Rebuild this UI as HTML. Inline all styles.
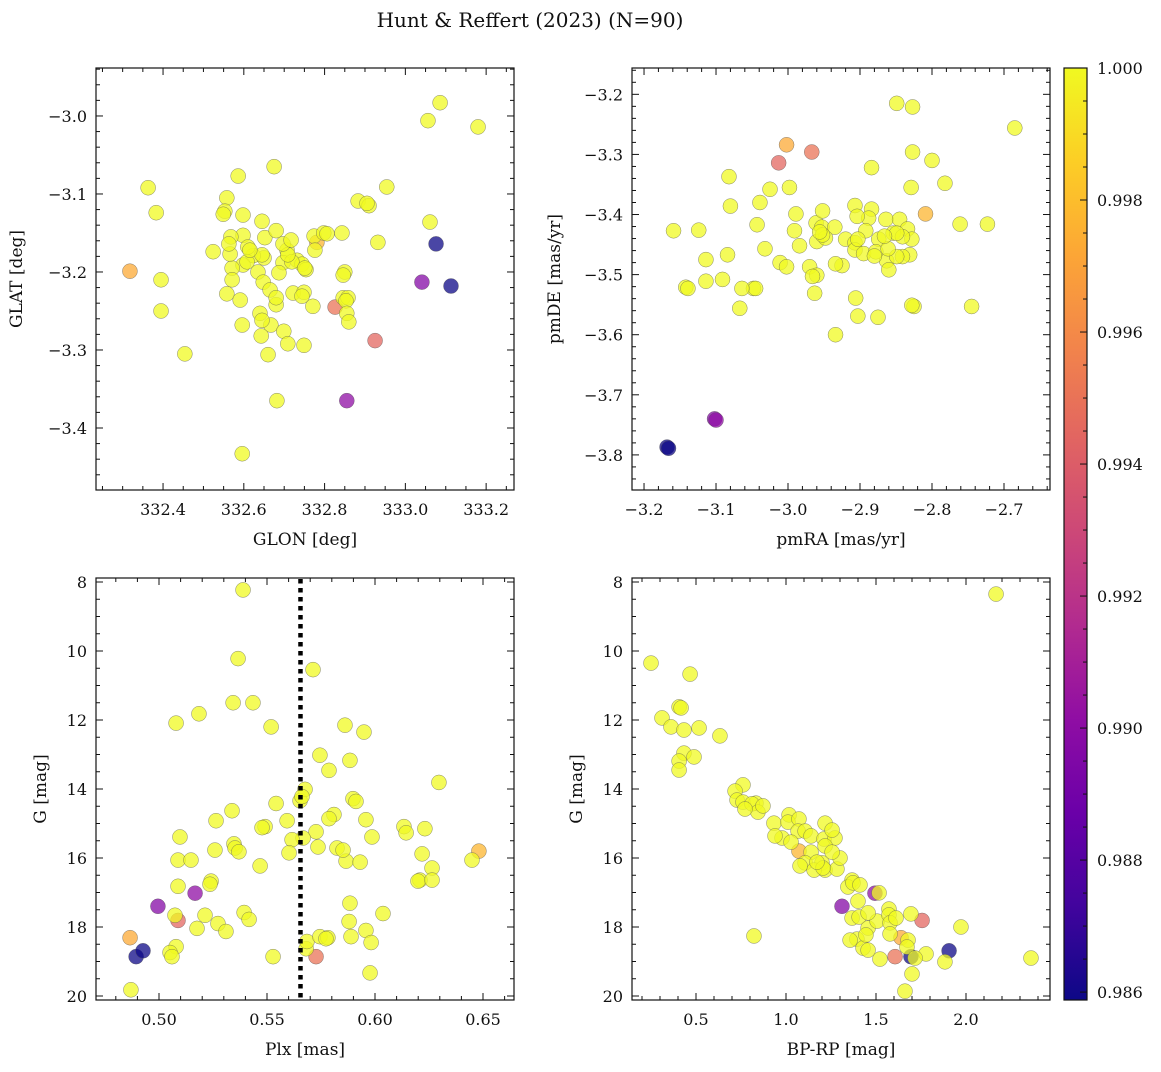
<!DOCTYPE html>
<html>
<head>
<meta charset="utf-8">
<style>
  html,body{margin:0;padding:0;background:#fff;}
  svg text{font-family:"DejaVu Serif","Liberation Serif",serif;fill:#111;}
</style>
</head>
<body>
<svg id="fig" xmlns="http://www.w3.org/2000/svg" width="1161" height="1067" viewBox="0 0 1161 1067">
  <defs>
    <linearGradient id="plasmaGrad" x1="0" y1="1" x2="0" y2="0">
      <stop offset="0" stop-color="#0d0887"/>
      <stop offset="0.1" stop-color="#41049d"/>
      <stop offset="0.2" stop-color="#6a00a8"/>
      <stop offset="0.3" stop-color="#8f0da4"/>
      <stop offset="0.4" stop-color="#b12a90"/>
      <stop offset="0.5" stop-color="#cc4778"/>
      <stop offset="0.6" stop-color="#e16462"/>
      <stop offset="0.7" stop-color="#f2844b"/>
      <stop offset="0.8" stop-color="#fca636"/>
      <stop offset="0.9" stop-color="#fcce25"/>
      <stop offset="1" stop-color="#f0f921"/>
    </linearGradient>
  </defs>
  <text x="530" y="27" font-size="20" text-anchor="middle">Hunt &amp; Reffert (2023) (N=90)</text>
</svg>
<script>
// ---- data ----
const prob = [0.98588,0.98588,0.9897,0.9901,0.9973,0.9977,0.9945,0.9950].concat(new Array(82).fill(1.0));

const glon = [333.113,333.076,333.041,332.855,332.318,332.781,332.925,332.826,
333.086,333.056,333.180,332.363,332.383,332.954,332.883,332.910,332.905,333.061,
332.932,332.395,332.395,332.454,332.586,332.675,332.558,332.553,332.549,332.598,
332.524,332.598,332.652,332.680,332.707,332.650,332.623,332.598,332.571,332.571,
332.558,332.608,332.635,332.648,332.665,332.697,332.687,332.732,332.744,332.722,
332.749,332.749,332.680,332.667,332.643,332.660,332.682,332.596,332.591,332.596,
332.640,332.719,332.754,332.709,332.697,332.774,332.798,332.843,332.850,332.846,
332.858,332.853,332.855,332.860,332.846,332.751,332.806,332.776,332.566,332.568,
332.610,332.645,332.699,332.709,332.744,332.771,332.680,332.645,332.717,332.645,
332.615,332.563];
const glat = [-3.218,-3.164,-3.213,-3.365,-3.199,-3.162,-3.288,-3.245,
-2.983,-3.006,-3.014,-3.092,-3.124,-3.091,-3.109,-3.115,-3.112,-3.136,
-3.162,-3.210,-3.250,-3.305,-3.077,-3.065,-3.105,-3.122,-3.126,-3.127,
-3.174,-3.153,-3.156,-3.147,-3.172,-3.182,-3.179,-3.191,-3.195,-3.210,
-3.228,-3.187,-3.200,-3.213,-3.223,-3.188,-3.201,-3.185,-3.190,-3.227,
-3.226,-3.294,-3.242,-3.268,-3.282,-3.306,-3.365,-3.433,-3.236,-3.268,
-3.253,-3.187,-3.197,-3.178,-3.164,-3.154,-3.150,-3.150,-3.200,-3.233,
-3.233,-3.237,-3.253,-3.264,-3.204,-3.195,-3.151,-3.172,-3.177,-3.155,
-3.168,-3.262,-3.276,-3.292,-3.231,-3.244,-3.233,-3.178,-3.159,-3.135,
-3.172,-3.164];
const pmra = [-3.168,-3.166,-3.102,-3.100,-3.002,-2.809,-3.013,-2.967,
-2.849,-2.827,-2.685,-2.827,-2.800,-2.884,-2.782,-2.829,-3.082,-3.025,
-2.998,-3.039,-3.080,-2.961,-2.952,-2.953,-2.935,-2.907,-2.884,-2.888,
-2.904,-2.960,-2.984,-2.948,-2.920,-2.892,-2.864,-2.854,-2.874,-2.845,
-2.834,-2.828,-2.831,-2.841,-2.863,-2.860,-2.849,-2.907,-2.907,-2.903,
-2.895,-2.878,-2.880,-2.952,-2.925,-2.970,-2.960,-3.011,-3.002,-2.966,
-2.841,-2.849,-2.861,-2.866,-2.761,-2.723,-3.043,-3.084,-3.114,-3.124,
-3.142,-3.114,-3.048,-3.045,-3.064,-3.067,-3.159,-3.139,-3.091,-2.963,
-2.906,-2.934,-2.903,-2.875,-2.825,-2.745,-2.828,-2.934,-3.032,-2.989,
-2.991,-2.956];
const pmde = [-3.787,-3.789,-3.740,-3.742,-3.284,-3.399,-3.314,-3.296,
-3.215,-3.221,-3.256,-3.296,-3.310,-3.322,-3.348,-3.355,-3.337,-3.358,
-3.355,-3.380,-3.386,-3.414,-3.394,-3.421,-3.421,-3.385,-3.391,-3.406,
-3.403,-3.445,-3.452,-3.439,-3.441,-3.427,-3.408,-3.431,-3.441,-3.408,
-3.424,-3.441,-3.467,-3.470,-3.477,-3.492,-3.470,-3.447,-3.459,-3.441,
-3.465,-3.462,-3.469,-3.434,-3.485,-3.487,-3.501,-3.480,-3.487,-3.503,
-3.437,-3.431,-3.457,-3.436,-3.416,-3.416,-3.417,-3.467,-3.475,-3.426,
-3.521,-3.511,-3.523,-3.523,-3.523,-3.556,-3.427,-3.523,-3.508,-3.531,
-3.539,-3.482,-3.569,-3.571,-3.553,-3.553,-3.551,-3.600,-3.457,-3.399,
-3.427,-3.429];
const plx = [0.4894,0.4926,0.4995,0.5167,0.4866,0.6481,0.5088,0.5727,
0.5389,0.5366,0.5713,0.5079,0.5185,0.5343,0.5435,0.5519,0.5745,0.5861,
0.5884,0.5787,0.5949,0.5542,0.5491,0.5338,0.5347,0.5352,0.5370,0.5468,
0.5593,0.5653,0.5676,0.5727,0.5667,0.5616,0.5602,0.5736,0.5824,0.5810,
0.5866,0.5898,0.5912,0.5958,0.5852,0.5931,0.5986,0.5787,0.5259,0.5241,
0.5236,0.5097,0.5088,0.5148,0.5264,0.5088,0.5074,0.5213,0.5273,0.5394,
0.5417,0.5079,0.5051,0.5060,0.5176,0.5310,0.5528,0.5681,0.5685,0.5745,
0.5782,0.5773,0.5884,0.5880,0.5889,0.6037,0.5958,0.5982,0.5977,0.6449,
0.5477,0.5662,0.6134,0.6144,0.6218,0.6208,0.6199,0.6264,0.6264,0.6231,
0.6296,0.4870];
const gPlx = [18.86,18.69,17.40,17.02,18.31,15.80,17.81,18.86,
8.23,10.22,10.54,12.09,11.82,11.50,11.50,12.20,13.02,12.15,
13.17,13.46,12.35,14.42,15.09,14.63,15.59,15.71,15.82,16.23,
14.92,14.34,14.01,15.24,15.42,15.47,15.85,15.68,15.71,14.74,
16.09,14.28,14.36,14.89,15.77,16.12,15.39,14.86,15.77,16.67,
16.76,15.39,16.06,16.06,14.92,16.82,17.66,17.66,17.90,17.58,
17.78,18.57,18.74,18.86,18.04,18.13,18.86,18.63,18.42,18.28,
18.31,18.34,17.31,17.84,18.28,17.61,18.10,18.45,19.33,16.06,
15.12,14.22,15.09,15.27,15.88,16.64,16.67,16.29,16.64,15.15,
13.81,19.82];
const bprp = [1.694,1.906,1.311,1.494,1.639,1.072,1.756,1.606,
2.167,0.250,0.467,0.406,0.417,0.311,0.361,0.433,0.517,0.633,
0.433,0.489,0.406,0.406,0.761,0.717,0.728,0.761,0.833,0.811,
0.844,0.933,1.017,1.011,1.072,1.067,1.106,1.217,0.978,1.028,
1.139,1.211,1.272,1.139,1.217,1.106,1.200,1.217,1.156,1.283,
1.367,1.206,1.300,1.344,1.372,1.411,1.517,1.400,1.367,1.406,
1.456,1.506,1.572,1.572,1.578,1.694,1.972,1.578,1.678,1.394,
1.428,1.456,1.672,1.778,1.883,1.717,1.522,2.361,1.700,1.661,
0.822,1.172,1.256,0.872,0.772,1.444,1.611,1.356,1.078,1.256,
0.939,1.456];
const gCmd = [18.86,18.69,17.40,17.02,18.31,15.80,17.81,18.86,
8.35,10.35,10.67,11.62,11.65,11.94,12.20,12.29,12.23,12.46,
12.96,13.07,13.19,13.45,13.88,14.06,14.32,14.38,14.41,14.43,
14.67,14.99,14.75,14.96,14.87,15.22,15.22,14.99,15.42,15.54,
15.36,15.45,15.42,15.83,15.65,16.14,16.14,16.35,16.35,16.32,
16.64,16.29,16.00,16.84,16.72,16.78,17.01,17.25,17.74,17.71,
18.03,17.83,17.48,17.65,17.88,17.62,18.00,18.20,18.38,18.35,
18.61,18.67,18.58,18.78,19.01,18.90,18.93,18.90,19.36,19.86,
18.26,16.12,15.19,14.49,14.58,18.23,17.74,18.38,16.23,15.83,
15.36,17.59];
const plxMean = [0.5655];
const cbarTicks = [0.986,0.988,0.990,0.992,0.994,0.996,0.998,1.000];
const probMin = 0.98588, probMax = 1.0;

// ---- helpers ----
const NS = "http://www.w3.org/2000/svg";
const svg = document.getElementById('fig');
function el(tag, attrs, parent){
  const e = document.createElementNS(NS, tag);
  for (const k in attrs) e.setAttribute(k, attrs[k]);
  (parent||svg).appendChild(e);
  return e;
}
const plasmaStops = ["#0d0887","#41049d","#6a00a8","#8f0da4","#b12a90","#cc4778","#e16462","#f2844b","#fca636","#fcce25","#f0f921"];
function hex(h){return [parseInt(h.substr(1,2),16),parseInt(h.substr(3,2),16),parseInt(h.substr(5,2),16)];}
function plasma(t){
  t = Math.max(0, Math.min(1, t));
  const p = t*10, i = Math.min(9, Math.floor(p)), f = p - i;
  const a = hex(plasmaStops[i]), b = hex(plasmaStops[i+1]);
  return "rgb(" + a.map((v,k)=>Math.round(v+(b[k]-v)*f)).join(",") + ")";
}
function fmt(v, d){ const s = Math.abs(v).toFixed(d); return (v < -1e-9 ? "\u2212" : "") + s; }

function makeAxes(cfg){
  const g = el('g', {});
  
  
  const {x0,x1,y0,y1,xd0,xd1,yd0,yd1} = cfg;
  const sx = v => x0 + (v - xd0) / (xd1 - xd0) * (x1 - x0);
  const sy = v => y1 - (v - yd0) / (yd1 - yd0) * (y1 - y0);
  const tickG = el('g', {stroke:'#111','stroke-width':1}, g);
  
  
  const xlo = Math.min(xd0,xd1), xhi = Math.max(xd0,xd1);
  for (let k = Math.ceil(xlo/cfg.xMinor - 1e-6); k*cfg.xMinor <= xhi + 1e-9; k++){
    const v = k*cfg.xMinor, px = sx(v);
    const isMaj = Math.abs(v/cfg.xMajor - Math.round(v/cfg.xMajor)) < 1e-6;
    const L = isMaj ? 7 : 4;
    el('line', {x1:px,y1:y1,x2:px,y2:y1-L}, tickG);
    el('line', {x1:px,y1:y0,x2:px,y2:y0+L}, tickG);
    if (isMaj){
      const t = el('text', {x:px, y:y1+25, 'font-size':16, 'text-anchor':'middle'}, g);
      
      
      t.textContent = fmt(v, cfg.xDec);
    }
  }
  const ylo = Math.min(yd0,yd1), yhi = Math.max(yd0,yd1);
  for (let k = Math.ceil(ylo/cfg.yMinor - 1e-6); k*cfg.yMinor <= yhi + 1e-9; k++){
    const v = k*cfg.yMinor, py = sy(v);
    const isMaj = Math.abs(v/cfg.yMajor - Math.round(v/cfg.yMajor)) < 1e-6;
    const L = isMaj ? 7 : 4;
    el('line', {x1:x0,y1:py,x2:x0+L,y2:py}, tickG);
    el('line', {x1:x1,y1:py,x2:x1-L,y2:py}, tickG);
    if (isMaj){
      const t = el('text', {x:x0-9, y:py+6, 'font-size':16, 'text-anchor':'end'}, g);
      
      
      t.textContent = fmt(v, cfg.yDec);
    }
  }
  const xl = el('text', {x:(x0+x1)/2, y:y1+55, 'font-size':17, 'text-anchor':'middle'}, g);
  
  
  xl.textContent = cfg.xlabel;
  const yl = el('text', {x:0, y:0, 'font-size':17, 'text-anchor':'middle', transform:'translate(' + cfg.ylabelX + ',' + (y0+y1)/2 + ') rotate(-90)'}, g);
  
  
  yl.textContent = cfg.ylabel;
  const pts = el('g', {}, g);
  
  
  return {g, sx, sy, pts, x0, x1, y0, y1, frame: () => {
    const r = el('rect', {x:x0, y:y0, width:x1-x0, height:y1-y0, fill:'none', stroke:'#111', 'stroke-width':1.2}, g);
    
    
  }};
}

function scatter(ax, xs, ys){
  for (let i = 0; i < xs.length; i++){
    const c = el('circle', {cx:ax.sx(xs[i]), cy:ax.sy(ys[i]), r:7.5,
      fill: plasma((prob[i]-probMin)/(probMax-probMin)), 'fill-opacity':0.75,
      stroke:'#555', 'stroke-width':0.5, 'stroke-opacity':0.7}, ax.pts);
    
    
  }
}

// ---- panels ----
const ax1 = makeAxes({name:'sky-position-panel', x0:96,x1:514,y0:68,y1:490,
  xd0:332.234, xd1:333.269, yd0:-3.4795, yd1:-2.9385,
  xMajor:0.2, xMinor:0.05, yMajor:0.1, yMinor:0.02, xDec:1, yDec:1,
  xlabel:'GLON [deg]', ylabel:'GLAT [deg]', ylabelX:22});
scatter(ax1, glon, glat); ax1.frame();

const ax2 = makeAxes({name:'proper-motion-panel', x0:632,x1:1050,y0:68,y1:490,
  xd0:-3.2167, xd1:-2.6361, yd0:-3.8584, yd1:-3.1562,
  xMajor:0.1, xMinor:0.02, yMajor:0.1, yMinor:0.02, xDec:1, yDec:1,
  xlabel:'pmRA [mas/yr]', ylabel:'pmDE [mas/yr]', ylabelX:560});
scatter(ax2, pmra, pmde); ax2.frame();

const ax3 = makeAxes({name:'parallax-panel', x0:96,x1:514,y0:578,y1:1000,
  xd0:0.47083, xd1:0.66435, yd0:20.116, yd1:7.884,
  xMajor:0.05, xMinor:0.01, yMajor:2, yMinor:0.5, xDec:2, yDec:0,
  xlabel:'Plx [mas]', ylabel:'G [mag]', ylabelX:46});
scatter(ax3, plx, gPlx);
for (const m of plxMean){
  const ln = el('line', {x1:ax3.sx(m), x2:ax3.sx(m), y1:579, y2:999, stroke:'#000', 'stroke-width':4.5, 'stroke-dasharray':'4.5,4.5'}, ax3.g);
  
  
}
ax3.frame();

const ax4 = makeAxes({name:'cmd-panel', x0:632,x1:1050,y0:578,y1:1000,
  xd0:0.1444, xd1:2.4667, yd0:20.116, yd1:7.884,
  xMajor:0.5, xMinor:0.1, yMajor:2, yMinor:0.5, xDec:1, yDec:0,
  xlabel:'BP-RP [mag]', ylabel:'G [mag]', ylabelX:582});
scatter(ax4, bprp, gCmd); ax4.frame();

// ---- colorbar ----
const cb = el('g', {});


const cbx0 = 1064, cbx1 = 1087, cby0 = 68, cby1 = 1000;
const cy = v => cby1 - (v - probMin) / (probMax - probMin) * (cby1 - cby0);
const cbr = el('rect', {x:cbx0, y:cby0, width:cbx1-cbx0, height:cby1-cby0, fill:'url(#plasmaGrad)', stroke:'#111', 'stroke-width':1.2}, cb);


for (let k = Math.ceil(probMin/0.0005 - 1e-6); k*0.0005 <= probMax + 1e-9; k++){
  const v = k*0.0005, py = cy(v);
  const isMaj = Math.abs(v/0.002 - Math.round(v/0.002)) < 1e-6;
  el('line', {x1:cbx1, x2:cbx1-(isMaj?7:4), y1:py, y2:py, stroke:'#111', 'stroke-width':1}, cb);
}
for (const v of cbarTicks){
  const t = el('text', {x:1097, y:cy(v)+6, 'font-size':16}, cb);
  
  
  t.textContent = v.toFixed(3);
}
</script>
</body>
</html>
